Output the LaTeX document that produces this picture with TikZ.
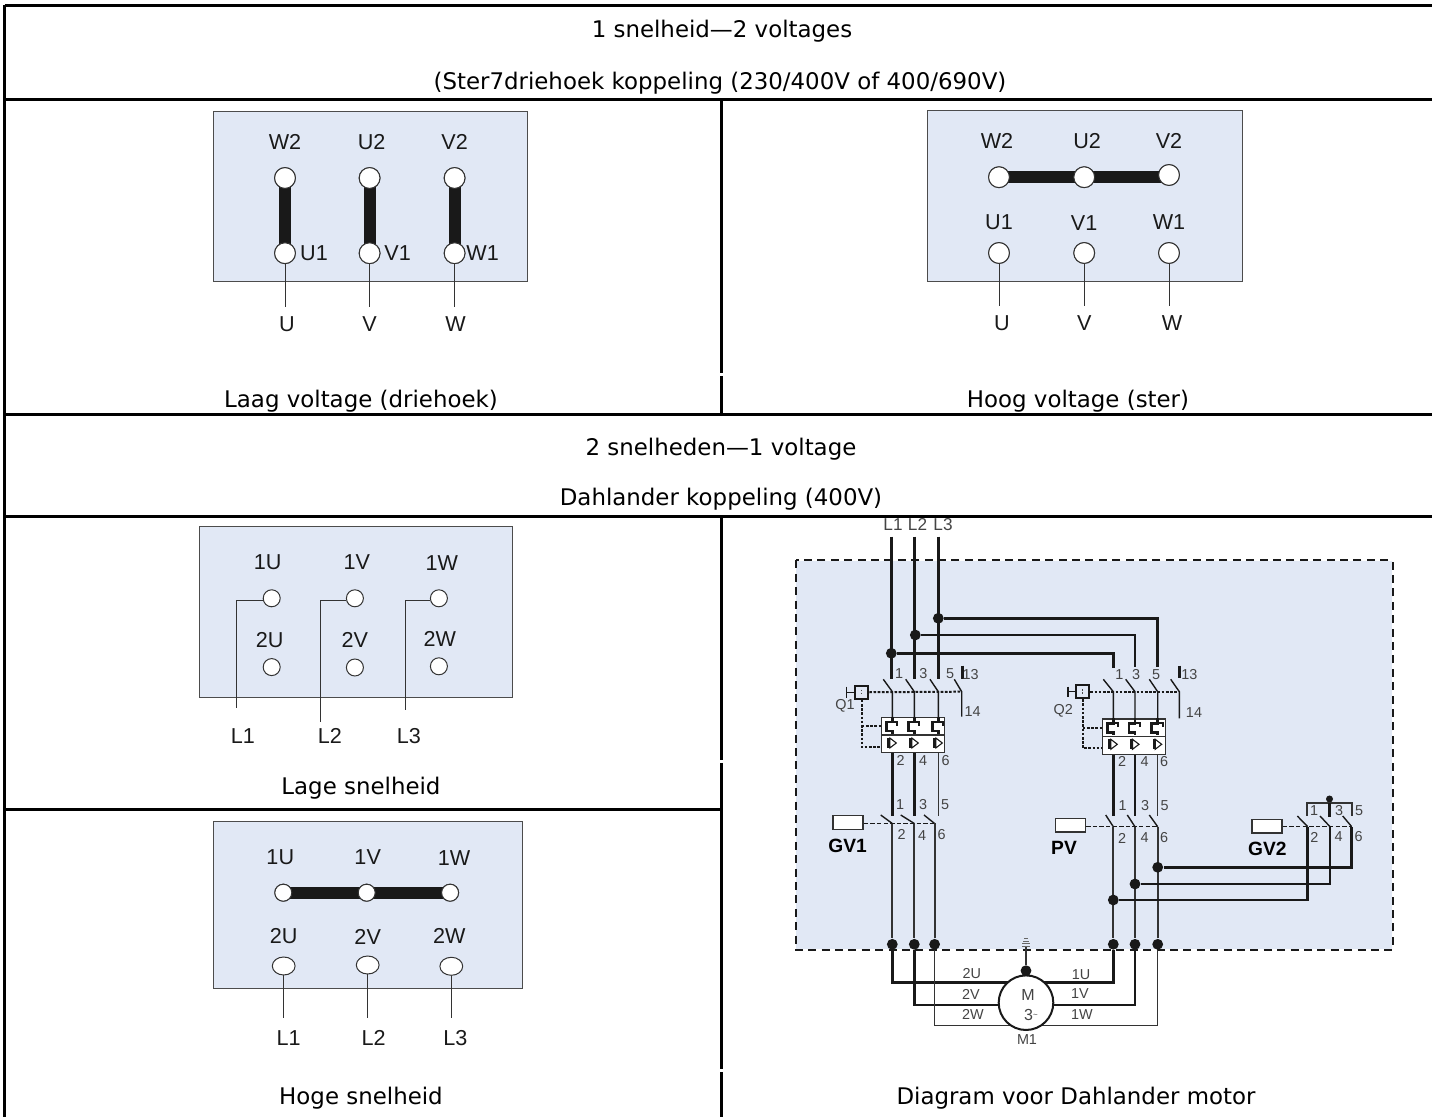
\documentclass[tikz,border=0pt]{standalone}
\usepackage{fontspec}
\setmainfont{DejaVu Sans}
\newfontfamily\diagfont{Liberation Sans}
\usetikzlibrary{positioning,shapes.geometric}
\definecolor{panelblue}{HTML}{E1E8F5}
\definecolor{labelgray}{HTML}{444444}
\tikzset{
    grid line/.style = {
        draw=black,
        line width=1.5pt,
        },
    cell text/.style = {
        font=\fontsize{11.45pt}{13pt}\selectfont,
        inner sep=0pt,
        },
    panel/.style = {
        draw=black!70,
        line width=.5pt,
        fill=panelblue,
        },
    term/.style = {
        draw=black!80,
        circle,
        fill=white,
        line width=.5pt,
        inner sep=0pt,
        minimum size=10.4pt,
        },
    term small/.style = {
        term,
        minimum size=8.5pt,
        },
    term oval/.style = {
        draw=black!80,
        ellipse,
        fill=white,
        line width=.5pt,
        inner sep=0pt,
        minimum width=11.4pt,
        minimum height=9pt,
        },
    link/.style = {
        draw=black!90,
        line width=6pt,
        },
    lead/.style = {
        draw=black!80,
        line width=.5pt,
        },
    tag/.style = {
        font=\diagfont\fontsize{10.8pt}{11pt}\selectfont,
        text=black!90,
        inner sep=0pt,
        },
    num/.style = {
        font=\diagfont\fontsize{7.2pt}{8pt}\selectfont,
        text=labelgray,
        inner sep=0pt,
        },
    feed tag/.style = {
        font=\diagfont\fontsize{8.6pt}{9pt}\selectfont,
        text=labelgray,
        inner sep=0pt,
        },
    big tag/.style = {
        font=\diagfont\bfseries\fontsize{9.6pt}{10pt}\selectfont,
        text=black,
        inner sep=0pt,
        },
    wire/.style = {
        draw=black!90,
        line width=1.25pt,
        },
    wire thin/.style = {
        draw=black!80,
        line width=.7pt,
        },
    blade/.style = {
        draw=black!90,
        line width=.7pt,
        },
    dot/.style = {
        circle,
        fill=black!90,
        inner sep=0pt,
        minimum size=5.4pt,
        },
    shaft/.style = {
        draw=black!90,
        line width=1pt,
        dash pattern=on 1.3pt off .8pt,
        },
    shaft thin/.style = {
        draw=black!90,
        line width=.8pt,
        dash pattern=on 2.2pt off 1.1pt,
        },
    coil/.style = {
        draw=black!80,
        fill=white,
        line width=.75pt,
        inner sep=0pt,
        minimum width=15pt,
        minimum height=6.8pt,
        },
    knob/.style = {
        draw=black!90,
        fill=panelblue,
        line width=1.1pt,
        inner sep=0pt,
        minimum size=6.5pt,
        },
    relay/.style = {
        draw=black!80,
        fill=white,
        line width=.7pt,
        inner sep=0pt,
        minimum width=31.5pt,
        minimum height=8.9pt,
        anchor=north west,
        },
    heater/.pic = {
        \draw[black!90, line width=1.4pt] (0,0) -- (0,5) -- (-6,5) -- (-6,14) -- (0,14) -- (0,17);
        \draw[black!90, line width=1pt] (0,5) -- (5,5) -- (5,9);
        },
    trip/.pic = {
        \draw[black!90, line width=1.2pt] (-4,21) -- (-4,31);
        \draw[black!90, line width=.55pt] (-2.5,21) -- (4,26) -- (-2.5,31) -- cycle;
        },
}
\begin{document}
\begin{tikzpicture}[x=.5pt, y=-.5pt, node distance=10pt, on grid]
    \useasboundingbox (0,0) rectangle (1432,1117);

    % panel 1
    \node[panel, minimum width=156.7pt, minimum height=85pt, anchor=north west, inner sep=0pt] (P1) at (213.3,111) {};
    \node[term] (W2a) at (285,178) {};
    \node[term, right=42.3pt of W2a] (U2a) {};
    \node[term, right=42.5pt of U2a] (V2a) {};
    \node[term, below=37.6pt of W2a] (U1a) {};
    \node[term, below=37.6pt of U2a] (V1a) {};
    \node[term, below=37.6pt of V2a] (W1a) {};
    \coordinate[below=26.7pt of U1a] (Ua);
    \coordinate[below=26.7pt of V1a] (Va);
    \coordinate[below=26.7pt of W1a] (Wa);
    \draw[lead] (U1a) -- (Ua);
    \draw[lead] (V1a) -- (Va);
    \draw[lead] (W1a) -- (Wa);
    \path (W2a.center) edge[link] (U1a.center);
    \path (U2a.center) edge[link] (V1a.center);
    \path (V2a.center) edge[link] (W1a.center);
    \node[term] at (W2a) {};
    \node[term] at (U2a) {};
    \node[term] at (V2a) {};
    \node[term] at (U1a) {};
    \node[term] at (V1a) {};
    \node[term] at (W1a) {};
    \node[tag, above=18.2pt of W2a] (tW2a) {W2};
    \node[tag, above=18.2pt of U2a, xshift=1pt] (tU2a) {U2};
    \node[tag, above=18.2pt of V2a] (tV2a) {V2};
    \node[tag, right=14.5pt of U1a] (tU1a) {U1};
    \node[tag, right=14pt of V1a] (tV1a) {V1};
    \node[tag, right=14pt of W1a] (tW1a) {W1};
    \node[tag, below=4.8pt of Ua, xshift=1pt] (tUa) {U};
    \node[tag, below=4.8pt of Va] (tVa) {V};
    \node[tag, below=4.8pt of Wa, xshift=.5pt] (tWa) {W};
    \node[cell text] (capA) at (361,401) {Laag voltage (driehoek)};

    % panel 2
    \node[panel, minimum width=157.5pt, minimum height=85.3pt, anchor=north west, inner sep=0pt] (P2) at (927.3,110) {};
    \node[term] (U1b) at (999,253) {};
    \node[term, right=42.6pt of U1b] (V1b) {};
    \node[term, right=42.4pt of V1b] (W1b) {};
    \node[term, above=37.9pt of U1b] (W2b) {};
    \node[term, above=37.9pt of V1b] (U2b) {};
    \node[term, above=39pt of W1b] (V2b) {};
    \coordinate[below=26.5pt of U1b] (Ub);
    \coordinate[below=26.5pt of V1b] (Vb);
    \coordinate[below=26.5pt of W1b] (Wb);
    \draw[lead] (U1b) -- (Ub);
    \draw[lead] (V1b) -- (Vb);
    \draw[lead] (W1b) -- (Wb);
    \path (W2b.center) edge[link] (W2b.center -| V2b.center);
    \node[term] at (W2b) {};
    \node[term] at (U2b) {};
    \node[term] at (V2b) {};
    \node[term] at (U1b) {};
    \node[term] at (V1b) {};
    \node[term] at (W1b) {};
    \node[tag, above=18.2pt of W2b, xshift=-1pt] (tW2b) {W2};
    \node[tag, above=18.2pt of U2b, xshift=1.5pt] (tU2b) {U2};
    \node[tag, above=17pt of V2b] (tV2b) {V2};
    \node[tag, above=15.5pt of U1b] (tU1b) {U1};
    \node[tag, above=15pt of V1b] (tV1b) {V1};
    \node[tag, above=15.5pt of W1b] (tW1b) {W1};
    \node[tag, below=4.8pt of Ub, xshift=1.5pt] (tUb) {U};
    \node[tag, below=4.8pt of Vb] (tVb) {V};
    \node[tag, below=4.8pt of Wb, xshift=1.5pt] (tWb) {W};
    \node[cell text] (capB) at (1078,401) {Hoog voltage (ster)};

    % panel 3
    \node[panel, minimum width=156.4pt, minimum height=85.3pt, anchor=north west, inner sep=0pt] (P3) at (199.3,526) {};
    \node[term small] (UIc) at (271.7,598.3) {};
    \node[term small, right=41.6pt of UIc] (VIc) {};
    \node[term small, right=42pt of VIc] (WIc) {};
    \node[term small, below=34.4pt of UIc] (UIIc) {};
    \node[term small, below=34.6pt of VIc] (VIIc) {};
    \node[term small, below=34pt of WIc] (WIIc) {};
    \coordinate (Lc1) at (236,708);
    \coordinate (Lc2) at (320.7,721.7);
    \coordinate (Lc3) at (405.3,710);
    \draw[lead] (UIc.west |- 0,601) -- (Lc1 |- 0,601) -- (Lc1);
    \draw[lead] (VIc.west |- 0,601) -- (Lc2 |- 0,601) -- (Lc2);
    \draw[lead] (WIc.west |- 0,601) -- (Lc3 |- 0,601) -- (Lc3);
    \node[tag, above=18pt of UIc, xshift=-2pt] (tUIc) {1U};
    \node[tag, above=18pt of VIc, xshift=1pt] (tVIc) {1V};
    \node[tag, above=17.8pt of WIc, xshift=1.5pt] (tWIc) {1W};
    \node[tag, above=13.5pt of UIIc, xshift=-1pt] (tUIIc) {2U};
    \node[tag, above=13.8pt of VIIc] (tVIIc) {2V};
    \node[tag, above=13.8pt of WIIc, xshift=.5pt] (tWIIc) {2W};
    \node[tag] (tLc1) at (243,736) {L1};
    \node[tag] (tLc2) at (330,736) {L2};
    \node[tag] (tLc3) at (409,736) {L3};
    \node[cell text] (capC) at (361,788) {Lage snelheid};

    % panel 4
    \node[panel, minimum width=154.4pt, minimum height=83.8pt, anchor=north west, inner sep=0pt] (P4) at (213.3,820.7) {};
    \node[term small] (UId) at (283.3,892.7) {};
    \node[term small, right=41.7pt of UId] (VId) {};
    \node[term small, right=41.7pt of VId] (WId) {};
    \node[term oval] (UIId) at (283.7,966) {};
    \node[term oval] (VIId) at (367.7,965) {};
    \node[term oval] (WIId) at (451.3,966.3) {};
    \coordinate[below=26pt of UIId] (Ld1);
    \coordinate[below=26.5pt of VIId] (Ld2);
    \coordinate[below=26pt of WIId] (Ld3);
    \draw[lead] (UIId) -- (Ld1);
    \draw[lead] (VIId) -- (Ld2);
    \draw[lead] (WIId) -- (Ld3);
    \path (UId.center) edge[link] (WId.center);
    \node[term small] at (UId) {};
    \node[term small] at (VId) {};
    \node[term small] at (WId) {};
    \node[tag, above=18pt of UId, xshift=-1.5pt] (tUId) {1U};
    \node[tag, above=18pt of VId, xshift=.5pt] (tVId) {1V};
    \node[tag, above=17.5pt of WId, xshift=2pt] (tWId) {1W};
    \node[tag, above=15pt of UIId] (tUIId) {2U};
    \node[tag, above=14pt of VIId] (tVIId) {2V};
    \node[tag, above=15pt of WIId, xshift=-1pt] (tWIId) {2W};
    \node[tag, below=6pt of Ld1, xshift=2.5pt] (tLd1) {L1};
    \node[tag, below=6pt of Ld2, xshift=3pt] (tLd2) {L2};
    \node[tag, below=6pt of Ld3, xshift=2pt] (tLd3) {L3};
    \node[cell text] (capD) at (361,1098) {Hoge snelheid};

    % dahlander diagram
    \node[inner sep=0pt, minimum width=298.1pt, minimum height=194.3pt, anchor=north west, fill=panelblue] (Box) at (795.5,560.5) {};
    \draw[black!90, line width=1pt, dash pattern=on 4pt off 2.7pt] (Box.north west) rectangle (Box.south east);

    \node[feed tag] (L1) at (893,524.5) {L1};
    \node[feed tag] (L2) at (917.5,524.5) {L2};
    \node[feed tag] (L3) at (943,524.5) {L3};
    \coordinate (InA) at (891.3,536.7);
    \coordinate (InB) at (914.7,536.7);
    \coordinate (InC) at (938.3,536.7);
    \coordinate (TopA) at (891.3,679);
    \coordinate (TopB) at (914.7,679);
    \coordinate (TopC) at (938.3,679);
    \draw[wire] (InA) -- (TopA);
    \draw[wire] (InB) -- (TopB);
    \draw[wire] (InC) -- (TopC);
    \node[dot] (JA) at (891.3,653.3) {};
    \node[dot] (JB) at (915.3,635) {};
    \node[dot] (JC) at (938.3,618.3) {};
    \coordinate (TopD) at (1113.3,668);
    \coordinate (TopE) at (1135,666.7);
    \coordinate (TopF) at (1157.7,666.7);
    \draw[wire] (JA) -- (JA -| TopD) -- (TopD);
    \draw[wire] (JB) -- (JB -| TopE) -- (TopE);
    \draw[wire] (JC) -- (JC -| TopF) -- (TopF);

    % Q1
    \coordinate (PivA) at (892.3,691.7);
    \coordinate (PivB) at (914.3,691.7);
    \coordinate (PivC) at (938.3,691.7);
    \coordinate (PivD) at (961.7,691.7);
    \coordinate (OpA) at (883.3,679.3);
    \coordinate (OpB) at (905.7,679.3);
    \coordinate (OpC) at (930,679.3);
    \coordinate (OpD) at (954.3,679.3);
    \draw[blade] (OpA) -- (PivA) -- (PivA |- 0,717);
    \draw[blade] (OpB) -- (PivB) -- (PivB |- 0,717);
    \draw[blade] (OpC) -- (PivC) -- (PivC |- 0,717);
    \draw[blade] (OpD) -- (PivD) -- (PivD |- 0,716.7);
    \draw[wire] (962.3,665.7) -- (962.3,679);
    \node[knob] (KnobA) at (861.7,692.3) {};
    \draw[shaft] (KnobA) -- (PivD);
    \draw[blade] (846.3,686.7) -- (846.3,698.3);
    \draw[blade] (846.3,692.3) -- (KnobA);
    \draw[black!70, line width=.7pt, dash pattern=on .8pt off .8pt] (KnobA.north) ++(0,5) -- ++(0,5);
    \node[num] (Qa) at (845,706) {Q1};
    \node[relay] (RelA) at (881,716.7) {};
    \node[relay] (RelB) at (881,734.3) {};
    \draw[shaft] (KnobA) -- (861.7,747.3) -- (RelB.west |- 0,747.3);
    \draw[shaft] (861.7,726) -- (RelA.west |- 0,726);
    \pic at (892.3,717) {heater};
    \pic at (914.3,717) {heater};
    \pic at (938.3,717) {heater};
    \pic at (892.3,717) {trip};
    \pic at (914.3,717) {trip};
    \pic at (938.3,717) {trip};
    \node[num] (na1) at (899,674) {1};
    \node[num] (na3) at (923.3,674) {3};
    \node[num] (na5) at (950,674) {5};
    \node[num] (na13) at (970.7,674.7) {13};
    \node[num] (na14) at (972.7,711.3) {14};
    \node[num] (na2) at (900.7,760.7) {2};
    \node[num] (na4) at (923,760.7) {4};
    \node[num] (na6) at (945.7,760.7) {6};

    % GV1
    \coordinate (MidA) at (892.3,816);
    \coordinate (MidB) at (914.3,816);
    \coordinate (MidC) at (938.3,816);
    \draw[wire] (RelB.south -| MidA) -- (MidA);
    \draw[wire] (RelB.south -| MidB) -- (MidB);
    \draw[wire thin] (RelB.south -| MidC) -- (MidC);
    \node[dot] (BotA) at (892.3,944.3) {};
    \node[dot] (BotB) at (914.3,944.3) {};
    \node[dot] (BotC) at (934.6,944.3) {};
    \coordinate (SwA) at (892.3,823.5);
    \coordinate (SwB) at (914.3,823.5);
    \coordinate (SwC) at (934.6,823.5);
    \draw[blade] (880.7,815) -- (SwA);
    \draw[blade] (900.7,815) -- (SwB);
    \draw[blade] (924,815) -- (SwC);
    \draw[wire thin, line width=.9pt] (SwA) -- (BotA);
    \draw[wire thin, line width=.9pt] (SwB) -- (BotB);
    \draw[wire thin, line width=.9pt] (SwC) -- (BotC);
    \node[coil] (CoilA) at (848,822.5) {};
    \draw[shaft thin] (CoilA.east |- SwA) -- (SwC);
    \node[big tag] (GVa) at (847.7,846) {GV1};
    \node[num] (nb1) at (900,805) {1};
    \node[num] (nb3) at (923,805) {3};
    \node[num] (nb5) at (945,805) {5};
    \node[num] (nb2) at (901.7,834.3) {2};
    \node[num] (nb4) at (922,836) {4};
    \node[num] (nb6) at (941.7,835) {6};

    % Q2
    \coordinate (PivE) at (1113.3,691.7);
    \coordinate (PivF) at (1135,691.7);
    \coordinate (PivG) at (1157.7,691.7);
    \coordinate (PivH) at (1179.3,691.7);
    \coordinate (OpE) at (1103.3,679.3);
    \coordinate (OpF) at (1125.7,679.3);
    \coordinate (OpG) at (1149.3,679.3);
    \coordinate (OpH) at (1170.7,679.3);
    \draw[blade] (OpE) -- (PivE) -- (PivE |- 0,718.3);
    \draw[blade] (OpF) -- (PivF) -- (PivF |- 0,718.3);
    \draw[blade] (OpG) -- (PivG) -- (PivG |- 0,718.3);
    \draw[blade] (OpH) -- (PivH) -- (PivH |- 0,718.3);
    \draw[wire] (1179.3,665.7) -- (1179.3,678.3);
    \node[knob] (KnobB) at (1082.7,691.7) {};
    \draw[shaft] (KnobB) -- (PivH);
    \draw[blade] (1068,686.7) -- (1068,696.7);
    \draw[blade] (1068,691.7) -- (KnobB);
    \draw[black!70, line width=.7pt, dash pattern=on .8pt off .8pt] (KnobB.north) ++(0,5) -- ++(0,5);
    \node[num] (Qb) at (1063.3,711) {Q2};
    \node[relay] (RelC) at (1102,718.3) {};
    \node[relay] (RelD) at (1102,735.9) {};
    \draw[shaft] (KnobB) -- (1082.7,748.3) -- (RelD.west |- 0,748.3);
    \draw[shaft] (1082.7,728.3) -- (RelC.west |- 0,728.3);
    \pic at (1113.3,718.3) {heater};
    \pic at (1135,718.3) {heater};
    \pic at (1157.7,718.3) {heater};
    \pic at (1113.3,718.3) {trip};
    \pic at (1135,718.3) {trip};
    \pic at (1157.7,718.3) {trip};
    \node[num] (nc1) at (1119.3,675) {1};
    \node[num] (nc3) at (1136,675) {3};
    \node[num] (nc5) at (1156,675) {5};
    \node[num] (nc13) at (1189.3,675) {13};
    \node[num] (nc14) at (1194,713) {14};
    \node[num] (nc2) at (1122,761.7) {2};
    \node[num] (nc4) at (1144.7,762) {4};
    \node[num] (nc6) at (1164,762) {6};

    % PV
    \coordinate (MidE) at (1113.3,816);
    \coordinate (MidF) at (1135,816);
    \coordinate (MidG) at (1157.7,816);
    \draw[wire] (RelD.south -| MidE) -- (MidE);
    \draw[wire] (RelD.south -| MidF) -- (MidF);
    \draw[wire thin] (RelD.south -| MidG) -- (MidG);
    \node[dot] (BotE) at (1113.3,944.3) {};
    \node[dot] (BotF) at (1135,944.3) {};
    \node[dot] (BotG) at (1157.7,944.3) {};
    \coordinate (SwE) at (1113.3,826.7);
    \coordinate (SwF) at (1135,826.7);
    \coordinate (SwG) at (1157.7,826.7);
    \draw[blade] (1105.7,815) -- (SwE);
    \draw[blade] (1127.3,815) -- (SwF);
    \draw[blade] (1149.3,815) -- (SwG);
    \draw[wire thin, line width=.9pt] (SwE) -- (BotE);
    \draw[wire thin, line width=.9pt] (SwF) -- (BotF);
    \draw[wire thin, line width=.9pt] (SwG) -- (BotG);
    \node[coil] (CoilB) at (1070.5,825.3) {};
    \draw[shaft thin] (CoilB.east |- SwE) -- (SwG);
    \node[big tag] (PV) at (1064,848.3) {PV};
    \node[num] (nd1) at (1122.7,806) {1};
    \node[num] (nd3) at (1145,806) {3};
    \node[num] (nd5) at (1164.5,806) {5};
    \node[num] (nd2) at (1122,838) {2};
    \node[num] (nd4) at (1144.7,838) {4};
    \node[num] (nd6) at (1164,838) {6};

    % GV2
    \node[dot] (JG) at (1157.7,867.3) {};
    \node[dot] (JF) at (1135,884) {};
    \node[dot] (JE) at (1113.3,900) {};
    \coordinate (SwH) at (1307.7,826.7);
    \coordinate (SwI) at (1330,826.7);
    \coordinate (SwJ) at (1351.7,826.7);
    \draw[wire] (JG) -- (JG -| SwJ) -- (SwJ);
    \draw[wire] (JF) -- (JF -| SwI) -- (SwI);
    \draw[wire] (JE) -- (JE -| SwH) -- (SwH);
    \draw[blade] (1297.3,816) -- (SwH);
    \draw[blade] (1320,816) -- (SwI);
    \draw[blade] (1342.7,816) -- (SwJ);
    \node[coil] (CoilC) at (1267,826.3) {};
    \draw[shaft thin] (CoilC.east |- SwH) -- (SwJ);
    \node[big tag] (GVb) at (1267.3,849.3) {GV2};
    \node[dot, minimum size=3.5pt] (Bridge) at (1329.5,799) {};
    \coordinate (BrL) at (1307,816);
    \coordinate (BrR) at (1351.7,815.7);
    \draw[wire thin, line width=.9pt] (BrL) -- (BrL |- 0,802.7) -- (BrR |- 0,802.7) -- (BrR);
    \draw[wire] (Bridge) -- (1329.5,816.7);
    \node[num] (ne1) at (1314,811) {1};
    \node[num] (ne3) at (1339,811) {3};
    \node[num] (ne5) at (1359,811) {5};
    \node[num] (ne2) at (1314.3,837) {2};
    \node[num] (ne4) at (1338.7,837) {4};
    \node[num] (ne6) at (1358.7,837) {6};

    % motor
    \coordinate (CrA) at (892.3,982.3);
    \coordinate (CrB) at (914.3,1005);
    \coordinate (CrC) at (934.6,1025.3);
    \draw[wire] (BotA) -- (CrA) -- (CrA -| BotE) -- (BotE);
    \draw[wire] (BotB) -- (CrB) -- (CrB -| BotF) -- (BotF);
    \draw[wire thin] (BotC) -- (CrC) -- (CrC -| BotG) -- (BotG);
    \node[draw=black!90, circle, fill=white, line width=1pt, inner sep=0pt, minimum size=27.3pt] (Motor) at (1026,1002.7) {};
    \node[dot] (GndDot) at (1026,970.7) {};
    \coordinate (Gnd) at (1026,946);
    \draw[wire thin] (GndDot) -- (Gnd);
    \draw[black!60, line width=.5pt] (1022,946.5) -- (1030,946.5);
    \draw[black!60, line width=.5pt] (1022,944) -- (1030,944);
    \draw[black!60, line width=.5pt] (1023,941.5) -- (1029,941.5);
    \draw[black!60, line width=.5pt] (1024,939) -- (1028,939);
    \node[num, font=\diagfont\fontsize{8pt}{9pt}\selectfont] (MotM) at (1028,995) {M};
    \node[num, font=\diagfont\fontsize{8pt}{9pt}\selectfont] (MotT) at (1031,1015) {3\raisebox{.3ex}{\fontsize{4pt}{4pt}\selectfont\textasciitilde}};
    \node[num] (MotN) at (1027,1040) {M1};
    \node[num] (mU2) at (971.7,974) {2U};
    \node[num] (mV2) at (971,994) {2V};
    \node[num] (mW2) at (973,1014) {2W};
    \node[num] (mU1) at (1081,974.7) {1U};
    \node[num] (mV1) at (1080,994) {1V};
    \node[num] (mW1) at (1082,1015) {1W};
    \node[cell text] (capE) at (1076,1098) {Diagram voor Dahlander motor};

    % table
    \node[cell text] (headA) at (722,31) {1 snelheid—2 voltages};
    \node[cell text] (headB) at (720,83) {(Ster7driehoek koppeling (230/400V of 400/690V)};
    \node[cell text] (headC) at (721,449) {2 snelheden—1 voltage};
    \node[cell text] (headD) at (721,499) {Dahlander koppeling (400V)};
    \coordinate (TL) at (4.5,5.5);
    \coordinate (TR) at (1432,5.5);
    \coordinate (BL) at (4.5,1117);
    \draw[grid line] (TL) -- (TR);
    \draw[grid line] (TL) -- (BL);
    \draw[grid line] (4.5,100) -- (1432,100);
    \draw[grid line] (4.5,414.5) -- (1432,414.5);
    \draw[grid line] (4.5,516.5) -- (1432,516.5);
    \draw[grid line] (4.5,809.5) -- (721.5,809.5);
    \draw[grid line] (721.5,100) -- (721.5,373);
    \draw[grid line] (721.5,376) -- (721.5,414.5);
    \draw[grid line] (721.5,516.5) -- (721.5,760);
    \draw[grid line] (721.5,763) -- (721.5,1069);
    \draw[grid line] (721.5,1072) -- (721.5,1117);
\end{tikzpicture}
\end{document}
